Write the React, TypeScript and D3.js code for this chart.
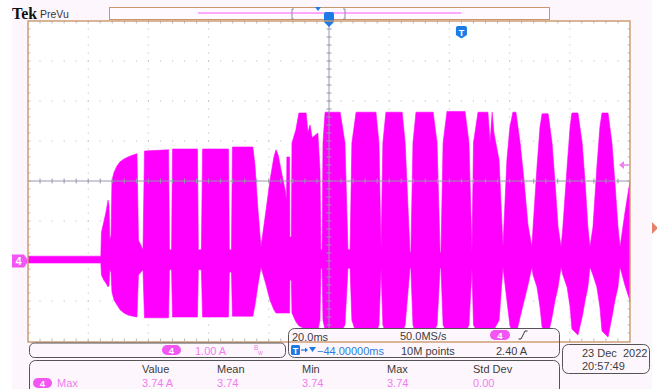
import React from "react";
import * as d3 from "d3";

const W = 657;
const H = 389;

// Horizontal: 20 ms/div over 10 divisions, horizontal delay -44 ms (trigger at t = 0)
const timeDomain = [-144, 56];
// Vertical: channel 4 at 1.00 A/div over 8 divisions, ground two divisions below centre
const currentDomain = [-2, 6];

// Envelope of the channel 4 current trace (ms, A upper, A lower)
const envTime = [
  -144.0, -119.8,
  -119.6, -118.8, -118.1, -117.4, -117.1, -116.8, -116.4,
  -116.1, -115.4, -114.4, -113.4, -112.1, -110.8, -109.1, -107.8, -107.3,
  -105.8, -105.3, -97.3, -97.0,
  -96.3, -96.0, -87.7, -87.4,
  -86.4, -86.0, -77.4, -77.1,
  -76.4, -76.1, -69.3, -68.6, -67.6, -66.6,
  -64.9, -63.6, -62.3, -61.6, -60.9, -59.6, -58.6, -58.1, -58.0, -57.1, -57.0, -56.5,
  -56.3, -55.0, -54.0, -51.6, -51.0, -50.3, -49.6, -47.7, -47.0, -46.7,
  -46.3, -46.0, -45.3, -40.3, -38.7, -37.7,
  -37.0, -36.4, -35.0, -28.4, -27.4, -26.7,
  -26.1, -25.1, -19.7, -18.7, -17.1,
  -16.8, -16.1, -15.1, -9.4, -8.1, -7.1,
  -6.8, -6.1, -4.8, 1.2, 2.5, 3.5,
  4.0, 5.5, 8.8, 9.5, 10.2, 10.8, 12.5, 13.8,
  15.1, 16.1, 17.1, 18.1, 19.5, 20.8, 22.1, 23.4,
  23.8, 25.1, 26.1, 26.8, 28.8, 30.1, 31.1, 32.1, 33.1,
  33.7, 35.1, 36.1, 36.7, 38.7, 40.1, 41.1, 42.0, 42.7,
  43.7, 45.0, 46.0, 46.7, 48.7, 50.0, 51.0, 52.0, 52.7,
  54.3, 56.0,
];
const envUpper = [
  0.12, 0.12,
  0.72, 0.98, 1.22, 1.52, 1.4, 0.52, 0.65,
  2.02, 2.22, 2.38, 2.48, 2.55, 2.6, 2.65, 2.68, 0.52,
  0.28, 2.75, 2.78, 0.28,
  0.28, 2.8, 2.8, 0.28,
  0.28, 2.8, 2.8, 0.28,
  0.28, 2.85, 2.85, 2.4, 1.28, 0.35,
  1.28, 2.02, 2.6, 2.78, 2.65, 2.15, 1.78, 1.52, 2.6, 2.6, 0.6, 0.6,
  2.95, 3.28, 3.7, 3.7, 3.22, 3.4, 3.08, 3.2, 2.28, 0.28,
  0.28, 2.95, 3.72, 3.72, 2.95, 0.28,
  0.28, 2.95, 3.72, 3.72, 2.95, 0.28,
  2.95, 3.72, 3.72, 2.95, 0.22,
  0.22, 2.95, 3.72, 3.72, 2.95, 0.22,
  0.22, 2.95, 3.74, 3.74, 2.95, 0.22,
  2.95, 3.72, 3.72, 2.95, 3.72, 3.2, 2.52, 0.35,
  2.52, 3.35, 3.72, 3.72, 2.95, 2.0, 0.9, 0.35,
  0.85, 2.35, 3.35, 3.68, 3.68, 2.95, 1.95, 0.85, 0.35,
  0.85, 2.35, 3.35, 3.7, 3.7, 2.95, 1.95, 0.85, 0.35,
  0.85, 2.35, 3.35, 3.7, 3.7, 2.95, 1.95, 0.85, 0.35,
  1.2, 2.0,
];
const envLower = [
  -0.05, -0.05,
  -0.35, -0.48, -0.55, -0.65, -0.6, -0.22, -0.28,
  -0.78, -0.98, -1.1, -1.22, -1.3, -1.35, -1.38, -1.4, -0.35,
  -0.22, -1.42, -1.42, -0.22,
  -0.22, -1.4, -1.4, -0.22,
  -0.22, -1.4, -1.4, -0.28,
  -0.28, -1.38, -1.38, -1.1, -0.6, -0.15,
  -0.6, -0.98, -1.22, -1.3, -1.3, -1.3, -1.3, -1.3, -1.3, -1.3, -0.48, -0.48,
  -1.3, -1.52, -1.62, -1.72, -1.72, -1.72, -1.72, -1.72, -1.48, -0.18,
  -0.18, -1.48, -1.72, -1.8, -1.6, -0.18,
  -0.18, -1.48, -1.8, -1.8, -1.6, -0.18,
  -1.6, -1.8, -1.8, -1.6, -0.18,
  -0.18, -1.6, -1.8, -1.8, -1.6, -0.18,
  -0.18, -1.6, -1.8, -1.8, -1.6, -0.18,
  -1.6, -1.8, -1.8, -1.72, -1.8, -1.72, -1.48, -0.15,
  -0.98, -1.6, -1.85, -1.85, -1.4, -1.0, -0.6, -0.15,
  -0.35, -0.65, -1.15, -1.65, -1.85, -1.4, -0.98, -0.65, -0.15,
  -0.35, -0.65, -1.15, -1.7, -1.85, -1.4, -0.98, -0.65, -0.15,
  -0.35, -0.65, -1.15, -1.75, -1.9, -1.4, -0.98, -0.65, -0.15,
  -0.6, -1.0,
];

const triggerLevel = 2.4;
const measHeaders = ["Value", "Mean", "Min", "Max", "Std Dev"];
const measValues = ["3.74 A", "3.74", "3.74", "3.74", "0.00"];
const measX = [142, 217, 302, 387, 473];

const SANS = "'Liberation Sans', Arial, sans-serif";
const PINK = "#ff00ff";
const TAN = "#c9976b";
const BLUE = "#1e7be6";
const TXT = "#3c3c3c";
const PINK_TXT = "#f07cf0";
const BADGE = "#f255f2";
const PANEL = "#fdf7fd";

export default function App() {
  const x = d3.scaleLinear().domain(timeDomain).range([28, 630]);
  const y = d3.scaleLinear().domain(currentDomain).range([341, 21]);

  const majorX = d3.range(11).map((i) => timeDomain[0] + i * 20);
  const minorX = d3.range(51).map((i) => timeDomain[0] + i * 4);
  const majorY = d3.range(9).map((i) => currentDomain[0] + i);
  const minorY = d3.range(41).map((i) => currentDomain[0] + i * 0.2);
  const centerT = -44;
  const centerA = 2;

  const idx = d3.range(envTime.length);
  const area = d3
    .area<number>()
    .x((i) => x(envTime[i]))
    .y0((i) => y(envLower[i]))
    .y1((i) => y(envUpper[i]))
    .curve(d3.curveLinear);

  const dots: JSX.Element[] = [];
  majorX.slice(1, -1).forEach((vx) => {
    if (vx === centerT) return;
    minorY.forEach((vy, j) =>
      dots.push(<rect key={`v${vx}-${j}`} x={x(vx) - 0.5} y={y(vy) - 0.5} width={1} height={1} fill="#b2b2b2" />)
    );
  });
  majorY.slice(1, -1).forEach((vy) => {
    if (vy === centerA) return;
    minorX.forEach((vx, j) =>
      dots.push(<rect key={`h${vy}-${j}`} x={x(vx) - 0.5} y={y(vy) - 0.5} width={1} height={1} fill="#b2b2b2" />)
    );
  });

  const edgeTicks: JSX.Element[] = [];
  minorX.slice(1, -1).forEach((vx, j) => {
    edgeTicks.push(<line key={`et${j}`} x1={x(vx)} x2={x(vx)} y1={21} y2={23.5} stroke="#b8b8b8" />);
    edgeTicks.push(<line key={`eb${j}`} x1={x(vx)} x2={x(vx)} y1={341} y2={338.5} stroke="#b8b8b8" />);
  });
  minorY.slice(1, -1).forEach((vy, j) => {
    edgeTicks.push(<line key={`el${j}`} x1={28} x2={30.5} y1={y(vy)} y2={y(vy)} stroke="#b8b8b8" />);
    edgeTicks.push(<line key={`er${j}`} x1={630} x2={627.5} y1={y(vy)} y2={y(vy)} stroke="#b8b8b8" />);
  });

  const crossColor = "#9896ac";
  const cy = y(centerA);
  const cx = x(centerT);
  const tx = x(0);
  const ty = y(triggerLevel);
  const gy = y(0);

  return (
    <svg
      width={W}
      height={H}
      viewBox={`0 0 ${W} ${H}`}
      style={{ position: "absolute", left: 0, top: 0, display: "block" }}
      fontFamily={SANS}
    >
      <rect x={0} y={0} width={W} height={H} fill="#ffffff" />
      <rect x={12} y={0} width={640} height={H} fill={PANEL} />

      {/* header */}
      <text x={12} y={18.5} fontFamily="'Liberation Serif', serif" fontWeight="bold" fontSize={16} fill="#111" textLength={25} lengthAdjust="spacingAndGlyphs">
        Tek
      </text>
      <text x={40} y={18} fontSize={10.5} fill="#333">
        PreVu
      </text>
      <rect x={109.5} y={7.5} width={440} height={12} fill="#fffaff" stroke={TAN} />
      <line x1={198} x2={x(0)} y1={13} y2={13} stroke="#ffaaff" strokeWidth={2} />
      <path d="M294,9 h-2 v10 h2" fill="none" stroke="#8a8aa0" />
      <path d="M343,9 h2 v10 h-2" fill="none" stroke="#8a8aa0" />
      <path d="M315,7 h6 l-3,4 z" fill={BLUE} />

      {/* plot area */}
      <rect x={28} y={21} width={602} height={320} fill="#ffffff" />
      {dots}
      {edgeTicks}

      <clipPath id="plotClip">
        <rect x={28} y={21} width={602} height={321} />
      </clipPath>
      <path d={area(idx) ?? ""} fill={PINK} stroke={PINK} strokeWidth={0.6} clipPath="url(#plotClip)" />

      {/* centre crosshair */}
      <line x1={28} x2={630} y1={cy} y2={cy} stroke={crossColor} />
      <line x1={cx} x2={cx} y1={21} y2={341} stroke={crossColor} />
      {minorX.slice(1, -1).map((vx, j) => (
        <line key={`cxt${j}`} x1={x(vx)} x2={x(vx)} y1={cy - 2.5} y2={cy + 2.5} stroke={crossColor} />
      ))}
      {minorY.slice(1, -1).map((vy, j) => (
        <line key={`cyt${j}`} x1={cx - 2.5} x2={cx + 2.5} y1={y(vy)} y2={y(vy)} stroke={crossColor} />
      ))}

      {/* position marker at top centre */}
      <path d={`M${cx - 5},14 q0,-2 2,-2 h6 q2,0 2,2 v8 l-5,5 l-5,-5 z`} fill={BLUE} />
      {/* trigger time marker */}
      <path d={`M${tx - 5.5},28 q0,-2 2,-2 h7 q2,0 2,2 v7 l-5.5,3.5 l-5.5,-3.5 z`} fill={BLUE} />
      <text x={tx} y={35.5} fontSize={9} fontWeight="bold" fill="#fff" textAnchor="middle">
        T
      </text>

      {/* ground reference marker, channel 4 */}
      <path d={`M12,${gy - 6.5} h12 l4.5,6.5 l-4.5,6.5 h-12 z`} fill={BADGE} />
      <text x={18.5} y={gy + 4} fontSize={11} fontWeight="bold" fill="#fff" textAnchor="middle">
        4
      </text>

      {/* trigger level marker */}
      <path d={`M619,${ty} l5,-4 v8 z`} fill="#f27ff2" />
      <line x1={623} x2={628.5} y1={ty} y2={ty} stroke="#f27ff2" strokeWidth={1.5} />

      {/* off-screen indicator */}
      <path d="M652,222 L658,228 L652,234 z" fill="#e5806b" />

      {/* horizontal / trigger panel */}
      <rect x={288.5} y={328.5} width={271} height={29} rx={6} fill={PANEL} />
      <rect x={28} y={21} width={602} height={321} fill="none" stroke={TAN} strokeWidth={1.4} />
      <rect x={288.5} y={328.5} width={271} height={29} rx={6} fill="none" stroke="#555" />
      <text x={292} y={341} fontSize={11} fill={TXT}>20.0ms</text>
      <text x={400} y={340} fontSize={11} fill={TXT}>50.0MS/s</text>
      <rect x={490} y={330} width={20} height={10} rx={5} fill={BADGE} />
      <text x={500} y={338.8} fontSize={9.5} fontWeight="bold" fill="#fff" textAnchor="middle">4</text>
      <path d="M518.5,339 h2.5 l4,-8 h2.5" fill="none" stroke="#333" />
      <rect x={291} y={345} width={9} height={10} rx={1.5} fill={BLUE} />
      <text x={295.5} y={353.5} fontSize={9} fontWeight="bold" fill="#fff" textAnchor="middle">T</text>
      <path d="M301,350 h5" stroke={BLUE} strokeWidth={1.2} />
      <path d="M305,347.5 l3,2.5 l-3,2.5 z" fill={BLUE} />
      <path d="M309,347 h7 l-3.5,5 z" fill={BLUE} />
      <text x={317} y={355} fontSize={11} fill="#2e7de0">−44.00000ms</text>
      <text x={401} y={355} fontSize={11} fill={TXT}>10M points</text>
      <text x={496} y={355} fontSize={11} fill={TXT}>2.40 A</text>

      {/* channel panel */}
      <rect x={29.5} y={343} width={256} height={14.5} rx={5} fill={PANEL} stroke="#555" />
      <rect x={162} y={345} width={19} height={10} rx={5} fill={BADGE} />
      <text x={171.5} y={353.8} fontSize={9.5} fontWeight="bold" fill="#fff" textAnchor="middle">4</text>
      <text x={195} y={355} fontSize={11} fill={PINK_TXT}>1.00 A</text>
      <text x={254} y={350} fontSize={6.5} fill={PINK_TXT}>B</text>
      <text x={258} y={355} fontSize={6.5} fill={PINK_TXT}>w</text>

      {/* date panel */}
      <rect x={562.5} y={344.5} width={87} height={29} rx={6} fill={PANEL} stroke="#555" />
      <text x={582} y={357} fontSize={11} fill={TXT} style={{ whiteSpace: "pre" }}>23 Dec  2022</text>
      <text x={582} y={370} fontSize={11} fill={TXT}>20:57:49</text>

      {/* measurement panel */}
      <rect x={29.5} y={360.5} width={530} height={40} rx={6} fill={PANEL} stroke="#555" />
      {measHeaders.map((h, i) => (
        <text key={h} x={measX[i]} y={373} fontSize={11} fill={TXT}>{h}</text>
      ))}
      <rect x={33} y={378} width={19} height={10} rx={5} fill={BADGE} />
      <text x={42.5} y={386.8} fontSize={9.5} fontWeight="bold" fill="#fff" textAnchor="middle">4</text>
      <text x={57} y={387} fontSize={11} fill={PINK_TXT}>Max</text>
      {measValues.map((v, i) => (
        <text key={`m${i}`} x={measX[i]} y={387} fontSize={11} fill={PINK_TXT}>{v}</text>
      ))}
    </svg>
  );
}
